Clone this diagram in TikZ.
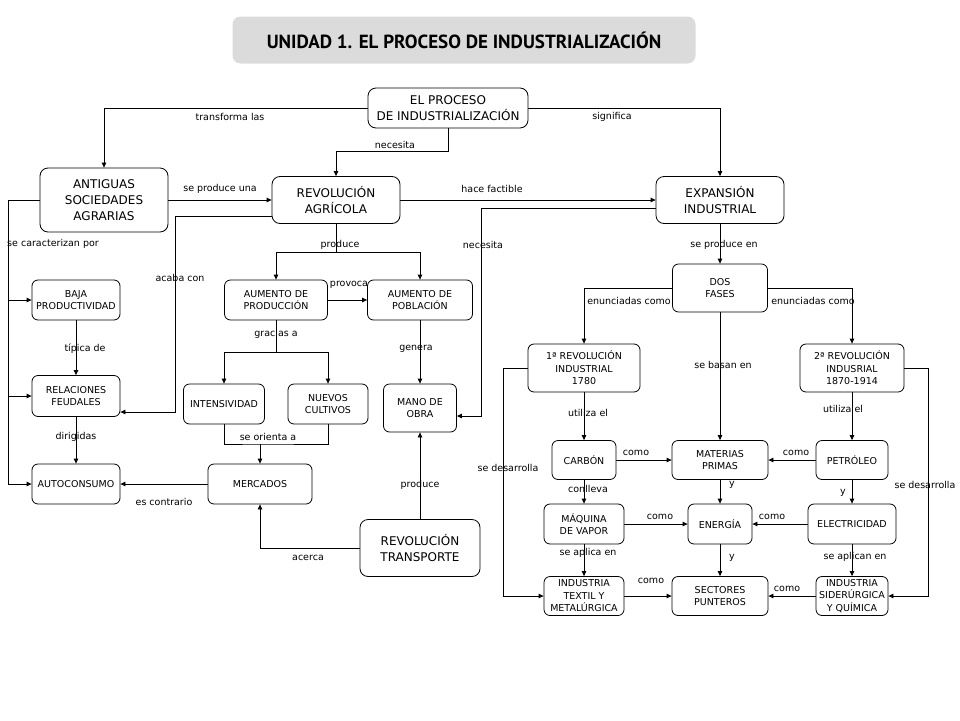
\documentclass[tikz,border=0pt]{standalone}
\usepackage{fontspec}
\setmainfont{DejaVu Sans}
\newfontfamily\titlefont{PT Sans}
\usetikzlibrary{arrows.meta}

\begin{document}
\begin{tikzpicture}[x=1pt, y=-1pt, line width=0.8pt,
  big/.style={draw, rounded corners=8pt, align=center, inner sep=0pt, font=\fontsize{12}{16}\selectfont},
  small/.style={draw, rounded corners=6pt, align=center, inner sep=0pt, font=\fontsize{9.5}{12.5}\selectfont},
  lbl/.style={inner sep=0pt, font=\fontsize{9.5}{11}\selectfont},
  arr/.style={-{Triangle[length=5pt,width=4.5pt]}}]
\useasboundingbox (0,0) rectangle (960,720);

\node [fill=black!14, rounded corners=8pt, minimum width=463, minimum height=47, font=\titlefont\bfseries\fontsize{19}{22}\selectfont] (title) at (464,40) {UNIDAD 1. EL PROCESO DE INDUSTRIALIZACIÓN};

\node [big, minimum width=160, minimum height=40] (proceso) at (448,108) {EL PROCESO\\DE INDUSTRIALIZACIÓN};
\node [big, minimum width=128, minimum height=64] (antiguas) at (104,200) {ANTIGUAS\\SOCIEDADES\\AGRARIAS};
\node [big, minimum width=128, minimum height=47] (agricola) at (336,200) {REVOLUCIÓN\\AGRÍCOLA};
\node [big, minimum width=128, minimum height=47] (expansion) at (720,200) {EXPANSIÓN\\INDUSTRIAL};
\node [big, minimum width=120, minimum height=57] (transporte) at (420,548) {REVOLUCIÓN\\TRANSPORTE};

\node [small, minimum width=88, minimum height=40] (baja) at (76,300) {BAJA\\PRODUCTIVIDAD};
\node [small, minimum width=103, minimum height=40] (prod) at (276,300) {AUMENTO DE\\PRODUCCIÓN};
\node [small, minimum width=105, minimum height=40] (pobl) at (420,300) {AUMENTO DE\\POBLACIÓN};
\node [small, minimum width=88, minimum height=41] (relaciones) at (76,396) {RELACIONES\\FEUDALES};
\node [small, minimum width=81, minimum height=40] (intens) at (224,404) {INTENSIVIDAD};
\node [small, minimum width=80, minimum height=40] (nuevos) at (328,404) {NUEVOS\\CULTIVOS};
\node [small, minimum width=73, minimum height=48] (mano) at (420,408) {MANO DE\\OBRA};
\node [small, minimum width=88, minimum height=40] (autoconsumo) at (76,484) {AUTOCONSUMO};
\node [small, minimum width=104, minimum height=40] (mercados) at (260,484) {MERCADOS};

\node [small, minimum width=95, minimum height=48] (fases) at (720,288) {DOS\\FASES};
\node [small, minimum width=112, minimum height=48] (rev1) at (584,368) {1ª REVOLUCIÓN\\INDUSTRIAL\\1780};
\node [small, minimum width=104, minimum height=48] (rev2) at (852,368) {2ª REVOLUCIÓN\\INDUSRIAL\\1870-1914};
\node [small, minimum width=64, minimum height=39] (carbon) at (584,460) {CARBÓN};
\node [small, minimum width=96, minimum height=39] (materias) at (720,460) {MATERIAS\\PRIMAS};
\node [small, minimum width=72, minimum height=39] (petroleo) at (852,460) {PETRÓLEO};
\node [small, minimum width=80, minimum height=40] (maquina) at (584,524) {MÁQUINA\\DE VAPOR};
\node [small, minimum width=64, minimum height=40] (energia) at (720,524) {ENERGÍA};
\node [small, minimum width=88, minimum height=40] (electricidad) at (852,524) {ELECTRICIDAD};
\node [small, minimum width=80, minimum height=39] (textil) at (584,596) {INDUSTRIA\\TEXTIL Y\\METALÚRGICA};
\node [small, minimum width=96, minimum height=39] (sectores) at (720,596) {SECTORES\\PUNTEROS};
\node [small, minimum width=72, minimum height=39] (siderurgica) at (852,596) {INDUSTRIA\\SIDERÚRGICA\\Y QUÍMICA};

\coordinate (cleft) at (8,200);
\coordinate (cacaba) at (175,412);
\coordinate (cnecesita) at (481,416);
\coordinate (cmercados) at (260,444);

\draw [arr] (proceso.west) -| (antiguas.north);
\draw [arr] (proceso.east) -| (expansion.north);
\draw [arr] (proceso.south) -- ++(0,23) -| (agricola.north);
\draw [arr] (antiguas.east) -- (agricola.west);
\draw [arr] (agricola.east) -- (expansion.west);
\draw [arr] (antiguas.west) -- (cleft) |- (autoconsumo.west);
\draw [arr] (cleft |- baja.west) -- (baja.west);
\draw [arr] (cleft |- relaciones.west) -- (relaciones.west);
\draw [arr] ([yshift=-16pt]agricola.west) -| (cacaba) -- (cacaba -| relaciones.east);
\draw [arr] (baja.south) -- (relaciones.north);
\draw [arr] (relaciones.south) -- (autoconsumo.north);
\draw (agricola.south) -- ++(0,28) coordinate (cproduce);
\draw [arr] (cproduce) -| (prod.north);
\draw [arr] (cproduce) -| (pobl.north);
\draw [arr] (prod.east) -- (pobl.west);
\draw (prod.south) -- ++(0,32) coordinate (cgracias);
\draw [arr] (cgracias) -| (intens.north);
\draw [arr] (cgracias) -| (nuevos.north);
\draw (intens.south) |- (cmercados) -| (nuevos.south);
\draw [arr] (cmercados) -- (mercados.north);
\draw [arr] (pobl.south) -- (mano.north);
\draw [arr] (mercados.west) -- (autoconsumo.east);
\draw [arr] (transporte.west) -| (mercados.south);
\draw [arr] (transporte.north) -- (mano.south);
\draw [arr] ([yshift=-8pt]expansion.west) -| (cnecesita) -- (cnecesita -| mano.east);

\draw [arr] (expansion.south) -- (fases.north);
\draw [arr] (fases.west) -| (rev1.north);
\draw [arr] (fases.east) -| (rev2.north);
\draw [arr] (fases.south) -- (materias.north);
\draw [arr] (rev1.south) -- (carbon.north);
\draw [arr] (rev2.south) -- (petroleo.north);
\draw [arr] (rev1.west) -- ++(-24,0) |- (textil.west);
\draw [arr] (rev2.east) -- ++(24,0) |- (siderurgica.east);
\draw [arr] (carbon.east) -- (materias.west);
\draw [arr] (petroleo.west) -- (materias.east);
\draw [arr] (maquina.east) -- (energia.west);
\draw [arr] (electricidad.west) -- (energia.east);
\draw [arr] (textil.east) -- (sectores.west);
\draw [arr] (siderurgica.west) -- (sectores.east);
\draw [arr] (carbon.south) -- (maquina.north);
\draw [arr] (materias.south) -- (energia.north);
\draw [arr] (petroleo.south) -- (electricidad.north);
\draw [arr] (maquina.south) -- (textil.north);
\draw [arr] (energia.south) -- (sectores.north);
\draw [arr] (electricidad.south) -- (siderurgica.north);

\node [lbl] (ltransforma) at (230,117) {transforma las};
\node [lbl] (lsignifica) at (612,117) {significa};
\node [lbl] (lnecesita) at (395,145) {necesita};
\node [lbl] (lseproduceuna) at (220,189) {se produce una};
\node [lbl] (lfactible) at (492,189) {hace factible};
\node [lbl] (lcaracterizan) at (53,244) {se caracterizan por};
\node [lbl] (lacaba) at (180,278) {acaba con};
\node [lbl] (lproduce) at (340,245) {produce};
\node [lbl] (lnecesitab) at (483,245) {necesita};
\node [lbl] (lseproduceen) at (724,245) {se produce en};
\node [lbl] (lprovoca) at (349,285) {provoca};
\node [lbl] (ltipica) at (85,349) {típica de};
\node [lbl] (lgracias) at (276,334) {gracias a};
\node [lbl] (lgenera) at (416,349) {genera};
\node [lbl] (lenunciadasa) at (629,301) {enunciadas como};
\node [lbl] (lenunciadasb) at (813,301) {enunciadas como};
\node [lbl] (lbasan) at (723,365) {se basan en};
\node [lbl] (lutilizaa) at (588,413) {utiliza el};
\node [lbl] (lutilizab) at (843,409) {utiliza el};
\node [lbl] (ldirigidas) at (76,437) {dirigidas};
\node [lbl] (lorienta) at (268,437) {se orienta a};
\node [lbl] (lcomoa) at (636,453) {como};
\node [lbl] (lcomob) at (796,453) {como};
\node [lbl] (ldesarrollaa) at (508,468) {se desarrolla};
\node [lbl] (ldesarrollab) at (925,485) {se desarrolla};
\node [lbl] (lproduceb) at (420,485) {produce};
\node [lbl] (lconlleva) at (588,489) {conlleva};
\node [lbl] (lya) at (732,485) {y};
\node [lbl] (lyb) at (843,493) {y};
\node [lbl] (lcontrario) at (164,502) {es contrario};
\node [lbl] (lcomoc) at (660,517) {como};
\node [lbl] (lcomod) at (772,517) {como};
\node [lbl] (laplica) at (588,553) {se aplica en};
\node [lbl] (lyc) at (732,558) {y};
\node [lbl] (laplican) at (855,557) {se aplican en};
\node [lbl] (lacerca) at (308,558) {acerca};
\node [lbl] (lcomoe) at (651,581) {como};
\node [lbl] (lcomof) at (787,589) {como};
\end{tikzpicture}
\end{document}
